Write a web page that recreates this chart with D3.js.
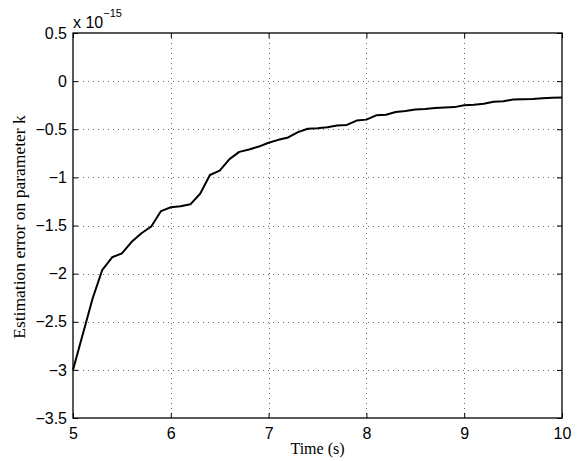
<!DOCTYPE html>
<html>
<head>
<meta charset="utf-8">
<script src="https://cdn.jsdelivr.net/npm/d3@7"></script>
<style>
  html, body { margin: 0; padding: 0; background: #fff; }
  svg { display: block; }
</style>
</head>
<body>
<svg id="chart" width="579" height="461"></svg>
<script>
// ---- data (values in units of 1e-15) ----
const timeValues = [5.0, 5.1, 5.2, 5.3, 5.4, 5.5, 5.6, 5.7, 5.8, 5.9,
                    6.0, 6.1, 6.2, 6.3, 6.4, 6.5, 6.6, 6.7, 6.8, 6.9,
                    7.0, 7.1, 7.2, 7.3, 7.4, 7.5, 7.6, 7.7, 7.8, 7.9,
                    8.0, 8.1, 8.2, 8.3, 8.4, 8.5, 8.6, 8.7, 8.8, 8.9,
                    9.0, 9.1, 9.2, 9.3, 9.4, 9.5, 9.6, 9.7, 9.8, 9.9, 10.0];
const errorValues = [-3.00, -2.63, -2.26, -1.96, -1.83, -1.79, -1.67, -1.58, -1.51, -1.35,
                     -1.31, -1.30, -1.28, -1.17, -0.975, -0.93, -0.81, -0.735, -0.71, -0.68,
                     -0.64, -0.61, -0.585, -0.53, -0.495, -0.49, -0.48, -0.46, -0.455, -0.41,
                     -0.40, -0.355, -0.35, -0.32, -0.31, -0.295, -0.29, -0.28, -0.275, -0.27,
                     -0.25, -0.245, -0.235, -0.215, -0.21, -0.19, -0.188, -0.185, -0.178, -0.172, -0.17];
const xTicks = [5, 6, 7, 8, 9, 10];
const yTicks = [0.5, 0, -0.5, -1, -1.5, -2, -2.5, -3, -3.5];
const xLabel = "Time (s)";
const yLabel = "Estimation error on parameter k";

// ---- layout ----
const svg = d3.select("#chart");
const pLeft = 73, pTop = 33, pRight = 562, pBottom = 418;
const x = d3.scaleLinear().domain([5, 10]).range([pLeft, pRight]);
const y = d3.scaleLinear().domain([-3.5, 0.5]).range([pBottom, pTop]);

const tickFont = "'Liberation Sans', Arial, Helvetica, sans-serif";
const serif = "'Liberation Serif', 'Times New Roman', Times, serif";
const fmt = v => (v < 0 ? "\u2212" + Math.abs(v) : String(v));

// grid
const grid = svg.append("g").attr("stroke", "#666").attr("stroke-width", 1)
  .attr("stroke-dasharray", "1,4").attr("fill", "none");
xTicks.slice(1, -1).forEach(t => {
  grid.append("line").attr("x1", Math.round(x(t)) + 0.5).attr("x2", Math.round(x(t)) + 0.5)
    .attr("y1", pTop).attr("y2", pBottom);
});
yTicks.slice(1, -1).forEach(t => {
  grid.append("line").attr("y1", Math.round(y(t)) + 0.5).attr("y2", Math.round(y(t)) + 0.5)
    .attr("x1", pLeft).attr("x2", pRight);
});

// axes (ticks inward on all sides)
const tickLen = 5;
const axB = d3.axisBottom(x).tickValues(xTicks).tickSizeInner(-tickLen).tickSizeOuter(0).tickPadding(10).tickFormat(fmt);
const axT = d3.axisTop(x).tickValues(xTicks).tickSizeInner(-tickLen).tickSizeOuter(0).tickFormat("");
const axL = d3.axisLeft(y).tickValues(yTicks).tickSizeInner(-tickLen).tickSizeOuter(0).tickPadding(6).tickFormat(fmt);
const axR = d3.axisRight(y).tickValues(yTicks).tickSizeInner(-tickLen).tickSizeOuter(0).tickFormat("");

function styleAxis(g) {
  g.selectAll(".domain").remove();
  g.selectAll(".tick line").attr("stroke", "#000").attr("stroke-width", 1);
  g.selectAll(".tick text").attr("fill", "#000")
    .style("font-family", tickFont).style("font-size", "16px");
}
svg.append("g").attr("transform", `translate(0,${pBottom})`).call(axB).call(styleAxis);
svg.append("g").attr("transform", `translate(0,${pTop})`).call(axT).call(styleAxis);
svg.append("g").attr("transform", `translate(${pLeft},0)`).call(axL).call(styleAxis);
svg.append("g").attr("transform", `translate(${pRight},0)`).call(axR).call(styleAxis);

// frame
svg.append("rect").attr("x", pLeft).attr("y", pTop).attr("width", pRight - pLeft).attr("height", pBottom - pTop)
  .attr("fill", "none").attr("stroke", "#000").attr("stroke-width", 1.3);

// line
const pts = timeValues.map((t, i) => [t, errorValues[i]]);
svg.append("path").datum(pts)
  .attr("fill", "none").attr("stroke", "#000").attr("stroke-width", 2)
  .attr("stroke-linejoin", "round")
  .attr("d", d3.line().x(d => x(d[0])).y(d => y(d[1])));

// exponent label
const ex = svg.append("text").attr("x", pLeft).attr("y", 28)
  .style("font-family", tickFont).style("font-size", "16px").attr("fill", "#000");
ex.append("tspan").text("x 10");
ex.append("tspan").attr("dy", -11).style("font-size", "11px").text("\u221215");

// axis labels
svg.append("text").attr("x", (pLeft + pRight) / 2).attr("y", 454).attr("text-anchor", "middle")
  .style("font-family", serif).style("font-size", "16px").attr("fill", "#000").text(xLabel);
svg.append("text").attr("transform", `translate(25,227) rotate(-90)`)
  .attr("text-anchor", "middle")
  .style("font-family", serif).style("font-size", "17.5px").attr("fill", "#000").text(yLabel);
</script>
</body>
</html>
